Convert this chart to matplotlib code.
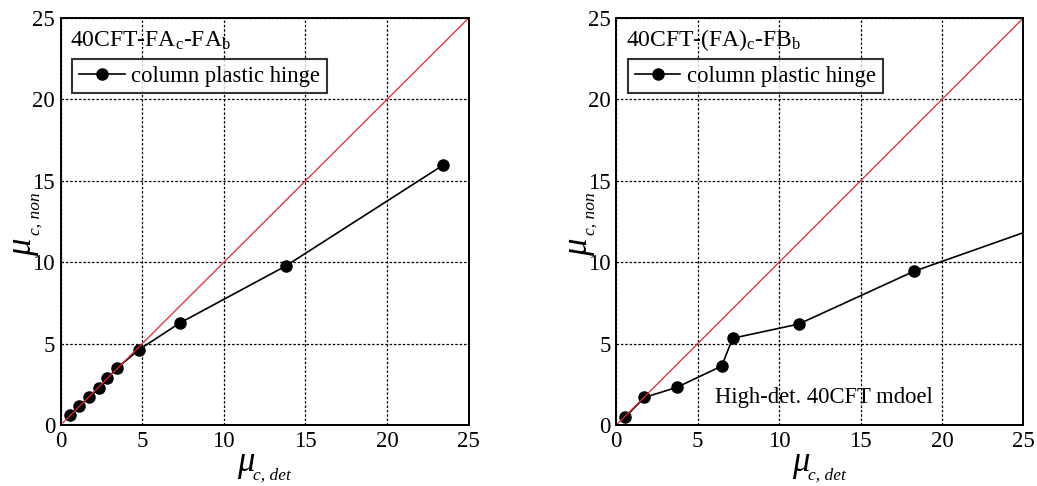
import matplotlib.pyplot as plt

plt.rcParams['font.family'] = ['Liberation Serif', 'DejaVu Serif']
plt.rcParams['mathtext.fontset'] = 'custom'
plt.rcParams['mathtext.rm'] = 'Liberation Serif'
plt.rcParams['mathtext.it'] = 'Liberation Serif:italic'

# column plastic hinge ductility, detailed vs. nonlinear model
fa_det = [0.57, 1.14, 1.73, 2.37, 2.86, 3.47, 4.80, 7.31, 13.78, 23.43]
fa_non = [0.61, 1.16, 1.73, 2.29, 2.86, 3.51, 4.63, 6.27, 9.76, 15.96]

fb_det = [0.53, 1.72, 3.71, 6.47, 7.15, 11.20, 18.28, 28.50]
fb_non = [0.47, 1.69, 2.31, 3.62, 5.33, 6.20, 9.44, 13.05]

ref_line = [0, 25]
ticks = [0, 5, 10, 15, 20, 25]

fig = plt.figure(figsize=(10.37, 4.86), dpi=100)
ax1 = fig.add_axes([0.0585, 0.1255, 0.3934, 0.8374])
ax2 = fig.add_axes([0.5943, 0.1255, 0.3925, 0.8374])


def style_axes(ax):
    ax.set_xlim(0, 25)
    ax.set_ylim(0, 25)
    ax.set_xticks(ticks)
    ax.set_yticks(ticks)
    ax.tick_params(length=0, labelsize=16.5, pad=4)
    ax.grid(True, color='black', linestyle=(0, (2, 1.5)), linewidth=0.9)
    for sp in ax.spines.values():
        sp.set_linestyle((0, (1.5, 0.6)))
        sp.set_linewidth(1.4)
        sp.set_zorder(5)
    # axis labels: big italic mu with a dropped subscript
    ax.text(0.454, -0.098, r'$\mu$', transform=ax.transAxes, fontsize=25,
            ha='center', va='center')
    ax.text(0.471, -0.125, 'c, det', transform=ax.transAxes, fontsize=12.5,
            style='italic', ha='left', va='center')
    ax.text(-0.088, 0.437, r'$\mu$', transform=ax.transAxes, fontsize=25,
            ha='center', va='center', rotation=90)
    ax.text(-0.062, 0.468, 'c, non', transform=ax.transAxes, fontsize=12.5,
            style='italic', ha='center', va='bottom', rotation=90)
    ax.plot(ref_line, ref_line, color='#e8262a', linewidth=0.9, zorder=4)


for ax, xs, ys, name in [(ax1, fa_det, fa_non, r'40CFT-FA$_\mathrm{c}$-FA$_\mathrm{b}$'),
                         (ax2, fb_det, fb_non, r'40CFT-(FA)$_\mathrm{c}$-FB$_\mathrm{b}$')]:
    style_axes(ax)
    ax.plot(xs, ys, color='black', marker='o', markersize=8, linewidth=1.2,
            label='column plastic hinge', zorder=3)
    ax.text(0.023, 0.945, name, transform=ax.transAxes, fontsize=17,
            va='center', ha='left')
    leg = ax.legend(loc='upper left', bbox_to_anchor=(0.029, 0.9),
                    fontsize=16.3, frameon=True, fancybox=False, borderpad=0.3,
                    handlelength=2.0, handletextpad=0.3, borderaxespad=0)
    leg.get_frame().set_edgecolor('black')
    leg.get_frame().set_linewidth(1.5)

ax2.text(12.76, 1.72, 'High-det. 40CFT mdoel', fontsize=16.3, ha='center', va='center')

fig.savefig('out.png', dpi=100)
